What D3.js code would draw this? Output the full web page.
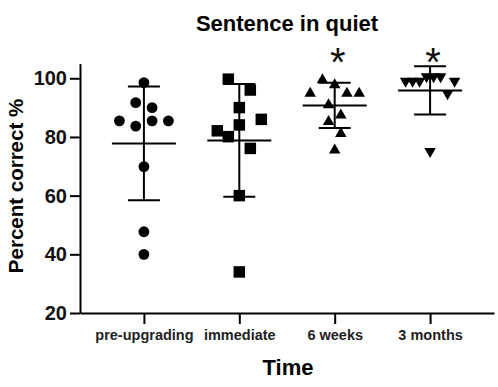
<!DOCTYPE html>
<html>
  <head>
    <meta charset="utf-8">
    <script src="https://d3js.org/d3.v7.min.js"></script>
    <style>
      body { margin: 0; background: white; }
      svg { display: block; font-family: "Liberation Sans", Arial, sans-serif; }
    </style>
  </head>
  <body>
    <script>
      // values (percent correct per subject)
      var categories = ["pre-upgrading", "immediate", "6 weeks", "3 months"];
      var preUpgrading = [98.5, 91.7, 90, 85.5, 83.7, 85.5, 85.5, 69.9, 47.7, 40];
      var immediate = [99.7, 96, 90, 82.1, 84.1, 86, 80.1, 76.1, 60, 34];
      var sixWeeks = [95.4, 100, 98.3, 95.4, 95.4, 91.5, 88, 85.8, 81.7, 76.1];
      var threeMonths = [98.5, 98.5, 98.5, 100, 100, 100, 94.2, 98.5, 74.5];
      var significant = [false, false, true, true];
      var yTicks = [20, 40, 60, 80, 100];
      var shapes = ["circle", "square", "triangle", "triangleDown"];

      var groups = [preUpgrading, immediate, sixWeeks, threeMonths];

      var width = 498, height = 387;
      var svg = d3.select("body").append("svg")
        .attr("width", width)
        .attr("height", height);

      var x = d3.scalePoint().domain(categories).range([80, 494]).padding(0.67);
      var y = d3.scaleLinear().domain([20, 105]).range([313, 313 - 85 * 2.934]);

      // title
      svg.append("text")
        .attr("x", 287).attr("y", 31)
        .attr("text-anchor", "middle")
        .style("font-size", "22px").style("font-weight", "bold")
        .text("Sentence in quiet");

      // axes
      var yAxis = svg.append("g")
        .attr("transform", "translate(80,0)")
        .call(d3.axisLeft(y).tickValues(yTicks).tickSize(10).tickSizeOuter(0).tickPadding(3));
      yAxis.selectAll("text").style("font-size", "20px").style("font-weight", "bold").attr("fill", "#111");

      var xAxis = svg.append("g")
        .attr("transform", "translate(0,313)")
        .call(d3.axisBottom(x).tickSize(11).tickSizeOuter(0).tickPadding(6));
      xAxis.selectAll("text").style("font-size", "14.5px").style("font-weight", "bold").attr("fill", "#222");

      svg.selectAll(".domain, .tick line")
        .attr("stroke", "black").attr("stroke-width", 2);

      svg.append("text")
        .attr("transform", "translate(23,186) rotate(-90)")
        .attr("text-anchor", "middle")
        .style("font-size", "20.5px").style("font-weight", "bold")
        .text("Percent correct %");

      svg.append("text")
        .attr("x", 288).attr("y", 375)
        .attr("text-anchor", "middle")
        .style("font-size", "22px").style("font-weight", "bold")
        .text("Time");

      // GraphPad-like scatter: points binned in rows from the top, rows spread sideways
      var binH = 18.5;
      function swarm(vals) {
        var order = d3.range(vals.length).sort(function(a, b) { return vals[b] - vals[a] || a - b; });
        var top = y(vals[order[0]]);
        var rows = d3.groups(order, function(i) { return Math.floor((y(vals[i]) - top) / binH); })
          .map(function(r) { return r[1].sort(d3.ascending); });
        var maxRow = d3.max(rows, function(r) { return r.length; });
        var step = maxRow > 1 ? Math.min(22, 49 / (maxRow - 1)) : 0;
        var out = [];
        rows.forEach(function(r) {
          r.forEach(function(i, k) {
            out.push({v: vals[i], dx: (k - (r.length - 1) / 2) * step});
          });
        });
        return out;
      }

      function shapePath(shape) {
        if (shape == "circle") return d3.symbol().type(d3.symbolCircle).size(Math.PI * 5.4 * 5.4)();
        if (shape == "square") return "M-5.75,-5.75H5.75V5.75H-5.75Z";
        if (shape == "triangle") return "M0,-5L5.75,5H-5.75Z";
        return "M0,5L5.75,-5H-5.75Z";
      }

      groups.forEach(function(vals, gi) {
        var cx = x(categories[gi]);
        var m = d3.mean(vals), sd = d3.deviation(vals);
        var g = svg.append("g").attr("stroke", "black").attr("stroke-width", 2);
        g.append("line").attr("x1", cx).attr("x2", cx).attr("y1", y(m + sd)).attr("y2", y(m - sd));
        g.append("line").attr("x1", cx - 16).attr("x2", cx + 16).attr("y1", y(m + sd)).attr("y2", y(m + sd));
        g.append("line").attr("x1", cx - 16).attr("x2", cx + 16).attr("y1", y(m - sd)).attr("y2", y(m - sd));
        g.append("line").attr("x1", cx - 32).attr("x2", cx + 32).attr("y1", y(m)).attr("y2", y(m));

        svg.append("g").selectAll("path")
          .data(swarm(vals))
          .enter().append("path")
            .attr("d", shapePath(shapes[gi]))
            .attr("fill", "black")
            .attr("transform", function(d) { return "translate(" + (cx + d.dx) + "," + y(d.v) + ")"; });

        if (significant[gi]) {
          svg.append("text")
            .attr("x", cx + 3).attr("y", 76)
            .attr("text-anchor", "middle")
            .style("font-size", "40px")
            .attr("fill", "#111")
            .text("*");
        }
      });
    </script>
  </body>
</html>
